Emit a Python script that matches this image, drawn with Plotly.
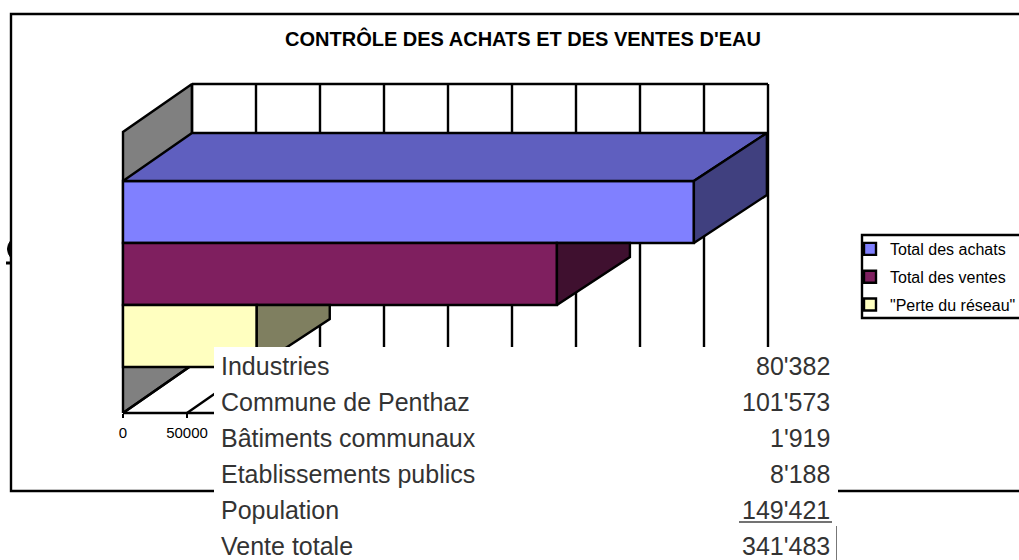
import plotly.graph_objects as go

# ---- data ----
series_names = ["Total des achats", "Total des ventes", "\"Perte du réseau\""]
series_values = [446000, 339000, 104500]
front_colors = ["#8080ff", "#7f1f5f", "#ffffc0"]
top_colors = ["#5f5fbf", "#5f1747", "#bfbf90"]
side_colors = ["#40407f", "#3f102f", "#7f7f60"]
tick_values = [0, 50000, 100000, 150000, 200000, 250000, 300000, 350000, 400000, 450000]
table_labels = ["Industries", "Commune de Penthaz", "Bâtiments communaux",
                "Etablissements publics", "Population", "Vente totale"]
table_values = ["80'382", "101'573", "1'919", "8'188", "149'421", "341'483"]
title_text = "CONTRÔLE DES ACHATS ET DES VENTES D'EAU"

# ---- page geometry ----
W, H = 1019, 560
PX_X = 64 / 50000       # pixels per unit of water volume
ZERO_X = 123            # pixel of value 0 on the front plane
PX_Y = 62               # pixels per bar slot
ZERO_Y = 336            # pixel of the lowest bar centre
xr = [-ZERO_X / PX_X, (W - ZERO_X) / PX_X]
yr = [(ZERO_Y - H) / PX_Y, ZERO_Y / PX_Y]
DX_WALL = 69 / PX_X     # depth of the wall, in axis units
DX_BAR = 73 / PX_X      # depth of the bar ends
DY = 48 / PX_Y
FLOOR = (ZERO_Y - 413) / PX_Y
CEIL = (ZERO_Y - 132) / PX_Y
BAR_Y = [2, 1, 0]
LW = 2.4


def px(x):
    return x / W


def py(y):
    return 1 - y / H


def poly(xs, ys, fill, ax=("x", "y")):
    return go.Scatter(x=xs + xs[:1], y=ys + ys[:1], mode="lines", fill="toself", fillcolor=fill,
                      line=dict(color="black", width=LW), showlegend=False, hoverinfo="skip",
                      xaxis=ax[0], yaxis=ax[1])


fig = go.Figure()

# back wall: left side, grid and floor lines
fig.add_trace(poly([0, DX_WALL, DX_WALL, 0], [FLOOR, FLOOR + DY, CEIL + DY, CEIL], "#808080"))
grid_x, grid_y = [], []
for t in tick_values:
    grid_x += [t + DX_WALL, t + DX_WALL, None]
    grid_y += [FLOOR + DY, CEIL + DY, None]
grid_x += [DX_WALL, tick_values[-1] + DX_WALL]
grid_y += [CEIL + DY, CEIL + DY]
fig.add_trace(go.Scatter(x=grid_x, y=grid_y, mode="lines", line=dict(color="black", width=LW),
                         showlegend=False, hoverinfo="skip"))
floor_x, floor_y = [], []
for t in tick_values:
    floor_x += [t, t + DX_WALL, None]
    floor_y += [FLOOR, FLOOR + DY, None]
floor_x += [0, tick_values[-1]]
floor_y += [FLOOR, FLOOR]
fig.add_trace(go.Scatter(x=floor_x, y=floor_y, mode="lines", line=dict(color="black", width=LW),
                         showlegend=False, hoverinfo="skip"))

# bars: front faces through the bar trace, top and side faces as filled outlines
ax2 = ("x2", "y2")
for i, (name, val) in enumerate(zip(series_names, series_values)):
    fig.add_trace(go.Bar(y=[BAR_Y[i]], x=[val], name=name, orientation="h", width=1,
                         marker=dict(color=front_colors[i], line=dict(color="black", width=LW)),
                         legendgroup=name, xaxis="x2", yaxis="y2"))
for i, val in enumerate(series_values):
    lo, hi = BAR_Y[i] - 0.5, BAR_Y[i] + 0.5
    if i == 0:
        fig.add_trace(poly([0, DX_WALL, val + DX_BAR, val], [hi, hi + DY, hi + DY, hi], top_colors[i], ax2))
        fig.add_trace(poly([val, val + DX_BAR, val + DX_BAR, val], [lo, lo + DY, hi + DY, hi], side_colors[i], ax2))
    else:
        fig.add_trace(poly([val, val + DX_BAR, val + DX_BAR, val], [lo, lo + DY, hi, hi], side_colors[i], ax2))

axis_off = dict(showgrid=False, zeroline=False, showline=False, showticklabels=False, ticks="")
fig.update_layout(
    width=W, height=H, margin=dict(l=0, r=0, t=0, b=0, autoexpand=False),
    paper_bgcolor="white", plot_bgcolor="rgba(0,0,0,0)", barmode="overlay",
    font=dict(family="Liberation Sans, Arial, sans-serif", color="black"),
    title=dict(text=title_text, x=523 / W, xanchor="center", y=py(39), yanchor="middle",
               font=dict(size=20, family="Liberation Sans, Arial, sans-serif", color="black", weight="bold")),
    xaxis=dict(domain=[0, 1], range=xr, anchor="free", position=py(413), tickmode="array",
               tickvals=tick_values[:2], ticktext=[str(t) for t in tick_values[:2]], ticks="outside", ticklen=4,
               tickwidth=2, tickcolor="black", showgrid=False, zeroline=False, showline=False,
               tickfont=dict(size=15, color="black"), ticklabelstandoff=2),
    yaxis=dict(domain=[0, 1], range=yr, **axis_off),
    xaxis2=dict(range=xr, overlaying="x", anchor="y2", **axis_off),
    yaxis2=dict(range=yr, overlaying="y", anchor="x2", **axis_off),
    legend=dict(x=px(850), xanchor="left", y=py(232), yanchor="top", bgcolor="rgba(0,0,0,0)",
                traceorder="grouped", tracegroupgap=4, font=dict(size=16, color="black")),
    showlegend=True,
)

shapes = [
    # chart frame
    dict(type="path", xref="paper", yref="paper", layer="above",
         path=f"M {px(W)},{py(14)} L {px(11)},{py(14)} L {px(11)},{py(491)} L {px(W)},{py(491)}",
         line=dict(color="black", width=LW)),
    # legend box
    dict(type="path", xref="paper", yref="paper", layer="above",
         path=f"M {px(W)},{py(235)} L {px(862)},{py(235)} L {px(862)},{py(318)} L {px(W)},{py(318)}",
         line=dict(color="black", width=LW)),
    # clipped glyph at the frame's left edge
    dict(type="path", xref="paper", yref="paper", layer="above",
         path=f"M {px(11)},{py(240)} Q {px(4)},{py(249)} {px(11)},{py(258)} Z",
         fillcolor="black", line=dict(color="black", width=1)),
    dict(type="line", xref="paper", yref="paper", layer="above", x0=px(6), x1=px(11), y0=py(263), y1=py(263),
         line=dict(color="black", width=3)),
    # pasted white table over the chart
    dict(type="rect", xref="paper", yref="paper", layer="above", x0=px(214), x1=px(838), y0=py(347), y1=py(H),
         fillcolor="white", line=dict(width=0)),
    # rule below the last subtotal and the cell border
    dict(type="line", xref="paper", yref="paper", layer="above", x0=px(739), x1=px(832), y0=py(522), y1=py(522),
         line=dict(color="#444444", width=1.5)),
    dict(type="line", xref="paper", yref="paper", layer="above", x0=px(836.5), x1=px(836.5), y0=py(526), y1=py(H),
         line=dict(color="#777777", width=1)),
]
fig.update_layout(shapes=shapes)

annotations = []
for k, (lab, val) in enumerate(zip(table_labels, table_values)):
    yc = py(366 + 36 * k)
    annotations.append(dict(text=lab, xref="paper", yref="paper", x=px(219), y=yc, xanchor="left", yanchor="middle",
                            showarrow=False, font=dict(size=25, color="#333333")))
    annotations.append(dict(text=val, xref="paper", yref="paper", x=px(832), y=yc, xanchor="right", yanchor="middle",
                            showarrow=False, font=dict(size=25, color="#333333")))
fig.update_layout(annotations=annotations)

fig.write_html("out.html", config={"displayModeBar": False}, post_script="document.body.style.margin='0';")
